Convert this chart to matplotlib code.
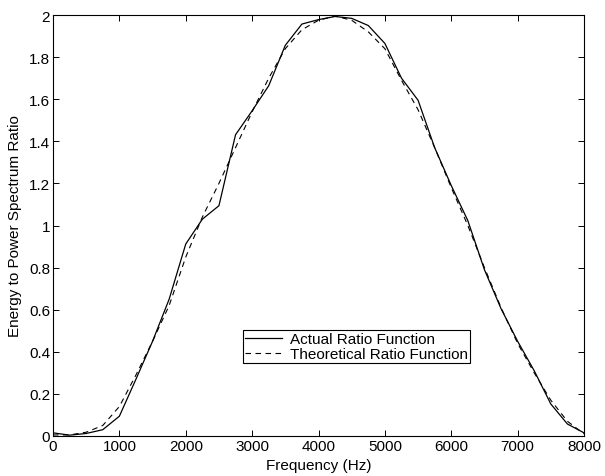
import matplotlib
matplotlib.use("Agg")
import matplotlib.pyplot as plt
import numpy as np

plt.rcParams['font.family'] = ['Liberation Sans', 'DejaVu Sans']
plt.rcParams['lines.scale_dashes'] = False

freq = list(range(0, 8001, 250))
actual = [0.015, 0.004, 0.012, 0.030, 0.094, 0.27, 0.45, 0.65, 0.912, 1.03, 1.094,
          1.431, 1.545, 1.664, 1.856, 1.957, 1.978, 1.993, 1.984, 1.95, 1.865,
          1.70, 1.595, 1.37, 1.19, 1.023, 0.79, 0.605, 0.45, 0.31, 0.152, 0.057, 0.015]
theoretical = [0.005, 0.005, 0.018, 0.05, 0.14, 0.29, 0.45, 0.62, 0.85, 1.04, 1.20,
               1.37, 1.54, 1.70, 1.84, 1.93, 1.975, 1.995, 1.975, 1.92, 1.84,
               1.69, 1.55, 1.37, 1.18, 1.0, 0.80, 0.61, 0.44, 0.30, 0.17, 0.07, 0.01]

xticks = list(range(0, 8001, 1000))
yticks = [0, 0.2, 0.4, 0.6, 0.8, 1, 1.2, 1.4, 1.6, 1.8, 2]
ytick_labels = ['0', '0.2', '0.4', '0.6', '0.8', '1', '1.2', '1.4', '1.6', '1.8', '2']

fig = plt.figure(figsize=(6.05, 4.77), dpi=100)
ax = fig.add_axes([53/605, 1 - 437/477, 531/605, 421/477])

ax.plot(freq, actual, color='black', lw=0.9, label='Actual Ratio Function')
ax.plot(freq, theoretical, color='black', lw=0.8, linestyle=(0, (4, 3.2)),
        label='Theoretical Ratio Function')

ax.set_xlim(0, 8000)
ax.set_ylim(0, 2)
ax.set_xticks(xticks)
ax.set_xticklabels([str(x) for x in xticks])
ax.set_yticks(yticks)
ax.set_yticklabels(ytick_labels)
ax.tick_params(direction='in', length=4, width=0.7, top=True, right=True,
               labelsize=11, pad=2, colors='black')
for s in ax.spines.values():
    s.set_linewidth(0.8)

ax.set_xlabel('Frequency (Hz)', fontsize=11, labelpad=4)
ax.set_ylabel('Energy to Power Spectrum Ratio', fontsize=11, labelpad=5)

leg = ax.legend(loc='lower left', bbox_to_anchor=(0.358, 0.173), fontsize=11,
                frameon=True, fancybox=False, edgecolor='black', framealpha=1,
                borderpad=0.15, labelspacing=0.05, handlelength=2.4, handletextpad=0.5,
                borderaxespad=0)
leg.get_frame().set_linewidth(0.8)

fig.savefig('out.png', dpi=100)
